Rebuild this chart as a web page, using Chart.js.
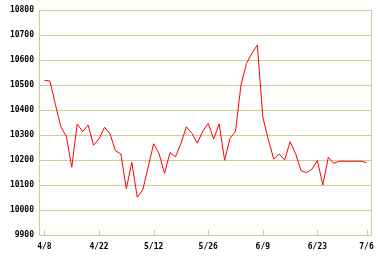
<!DOCTYPE html>
<html>
<head>
<meta charset="utf-8">
<script src="https://cdn.jsdelivr.net/npm/chart.js@4"></script>
<style>
  html, body { margin: 0; padding: 0; background: #fff; }
  #wrap { width: 382px; height: 258px; }
</style>
</head>
<body>
<div id="wrap"><canvas id="chart"></canvas></div>
<script>
// tick labels on the x axis and the point index each one sits on
const tickLabels = ['4/8', '4/22', '5/12', '5/26', '6/9', '6/23', '7/6']
const tickIndex = [0, 10, 20, 30, 40, 50, 59]

// one value per trading day, 4/8 .. 7/6
const values = [
  10519, 10516, 10422, 10333, 10295, 10171, 10344, 10314, 10340, 10259,
  10285, 10331, 10305, 10237, 10224, 10085, 10191, 10051, 10080, 10172,
  10265, 10225, 10147, 10230, 10213, 10266, 10333, 10307, 10267, 10315,
  10347, 10284, 10344, 10199, 10287, 10315, 10500, 10586, 10627, 10660,
  10372, 10282, 10204, 10224, 10200, 10273, 10226, 10157, 10149, 10163,
  10198, 10100, 10211, 10187, 10195, 10195, 10195, 10195, 10195, 10190
]

const gridColor = '#cccc99'
const labelFont = { family: 'DejaVu Sans Mono', size: 8, weight: 'bold' }

// right edge of the frame and the little ticks on the bottom axis
const framePlugin = {
  id: 'frame',
  beforeDatasetsDraw(chart) {
    const { ctx, chartArea: a, scales } = chart
    ctx.save()
    ctx.strokeStyle = gridColor
    ctx.lineWidth = 1
    ctx.beginPath()
    const rx = Math.round(a.right) + 0.5
    ctx.moveTo(rx, a.top)
    ctx.lineTo(rx, a.bottom + 1)
    tickIndex.forEach(v => {
      const x = Math.round(scales.x.getPixelForValue(v)) + 0.5
      ctx.moveTo(x, a.bottom)
      ctx.lineTo(x, a.bottom - 5)
    })
    ctx.stroke()
    ctx.restore()
  }
}

new Chart(document.getElementById('chart'), {
  type: 'line',
  data: {
    datasets: [{
      data: values.map((v, i) => ({ x: i, y: v })),
      borderColor: '#ff0000',
      borderWidth: 1,
      pointRadius: 0,
      tension: 0,
      fill: false
    }]
  },
  options: {
    responsive: true,
    maintainAspectRatio: false,
    animation: false,
    layout: { padding: { top: 10, right: 11, left: 0, bottom: 0 } },
    plugins: { legend: { display: false }, tooltip: { enabled: false } },
    scales: {
      x: {
        type: 'linear',
        min: -1,
        max: 59.82,
        grid: { display: false },
        border: { display: false },
        afterBuildTicks: scale => { scale.ticks = tickIndex.map(v => ({ value: v })) },
        afterFit: scale => { scale.height = 23 },
        ticks: {
          autoSkip: false,
          maxRotation: 0,
          padding: -1,
          color: '#000',
          font: labelFont,
          callback: v => tickLabels[tickIndex.indexOf(v)]
        }
      },
      y: {
        min: 9900,
        max: 10800,
        grid: { color: gridColor, drawTicks: false },
        border: { display: true, color: gridColor },
        afterFit: scale => { scale.width = 39 },
        ticks: {
          stepSize: 100,
          padding: 5,
          color: '#000',
          font: labelFont,
          callback: v => String(v)
        }
      }
    }
  },
  plugins: [framePlugin]
})
</script>
</body>
</html>
